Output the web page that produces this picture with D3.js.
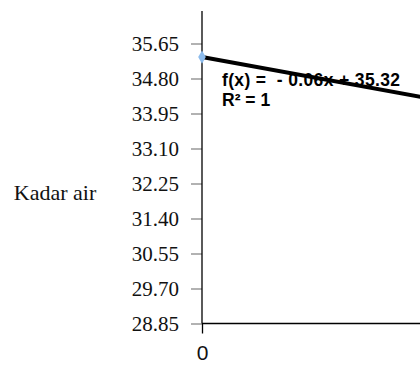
<!DOCTYPE html>
<html>
<head>
<meta charset="utf-8">
<script src="https://cdn.jsdelivr.net/npm/d3@7"></script>
<style>
html,body{margin:0;padding:0;background:#fff;}
svg{display:block;}
</style>
</head>
<body>
<svg id="chart" width="420" height="367"></svg>
<script>
// data
const xValues = [0, 20, 40];
const yValues = [35.32, 34.12, 32.92];
const yTicks = [28.85, 29.70, 30.55, 31.40, 32.25, 33.10, 33.95, 34.80, 35.65];
const xTicks = [0];
const trendSlope = [-0.06];
const trendIntercept = [35.32];
const yTitle = "Kadar air";
const eqLabel = ["f(x) =  - 0.06x + 35.32", "R² = 1"];

const svg = d3.select("#chart");
const yDomainMax = 36.44;
const y = d3.scaleLinear().domain([28.85, 35.65]).range([323.5, 43.5]);
const x = d3.scaleLinear().domain([0, 40]).range([202, 745]);

// y axis
const yAxis = d3.axisLeft(y).tickValues(yTicks).tickFormat(d3.format(".2f")).tickSize(11).tickPadding(12);
const gy = svg.append("g").attr("transform", `translate(${x(0)},0)`).call(yAxis);
gy.select(".domain").remove();
gy.selectAll(".tick line").attr("stroke", "#888").attr("stroke-width", 1.3);
gy.selectAll(".tick text").attr("font-family", "'Liberation Serif', 'Times New Roman', serif")
  .attr("font-size", 21).attr("fill", "#111").attr("dy", "0.35em");
svg.append("line").attr("x1", x(0)).attr("x2", x(0))
  .attr("y1", y(yDomainMax)).attr("y2", y(28.85)).attr("stroke", "#000").attr("stroke-width", 1.3);

// x axis
const xAxis = d3.axisBottom(x).tickValues(xTicks).tickFormat(d3.format("d")).tickSize(10).tickPadding(12);
const gx = svg.append("g").attr("transform", `translate(0,${y(28.85)})`).call(xAxis);
gx.select(".domain").remove();
gx.selectAll(".tick line").attr("stroke", "#000").attr("stroke-width", 1.3);
gx.selectAll(".tick text").attr("font-family", "'Liberation Sans', Arial, sans-serif")
  .attr("font-size", 21).attr("fill", "#111");
svg.append("line").attr("x1", x(0)).attr("x2", x(40))
  .attr("y1", y(28.85)).attr("y2", y(28.85)).attr("stroke", "#000").attr("stroke-width", 1.5);

// trend line
const tx = [xValues[0], xValues[xValues.length - 1]];
svg.append("path")
  .datum(tx)
  .attr("d", d3.line().x(d => x(d)).y(d => y(trendIntercept[0] + trendSlope[0] * d)))
  .attr("stroke", "#000").attr("stroke-width", 4).attr("fill", "none");

// markers
svg.selectAll(".pt").data(xValues).enter().append("path")
  .attr("class", "pt")
  .attr("transform", (d, i) => `translate(${x(d)},${y(yValues[i])})`)
  .attr("d", d3.symbol().type(d3.symbolDiamond).size(50))
  .attr("fill", "#8cbbec");

// equation label
svg.selectAll(".eq").data(eqLabel).enter().append("text")
  .attr("x", 222).attr("y", (d, i) => 86 + i * 20)
  .attr("font-family", "'Liberation Sans', Arial, sans-serif")
  .attr("font-weight", "bold").attr("font-size", 17.5).attr("fill", "#000")
  .style("white-space", "pre")
  .each(function(d, i) { if (i === 0) d3.select(this).attr("textLength", 178).attr("lengthAdjust", "spacing"); })
  .text(d => d);

// y title
svg.append("text").attr("x", 55).attr("y", 200).attr("text-anchor", "middle")
  .attr("font-family", "'Liberation Serif', 'Times New Roman', serif")
  .attr("font-size", 22).attr("fill", "#111").text(yTitle);
</script>
</body>
</html>
